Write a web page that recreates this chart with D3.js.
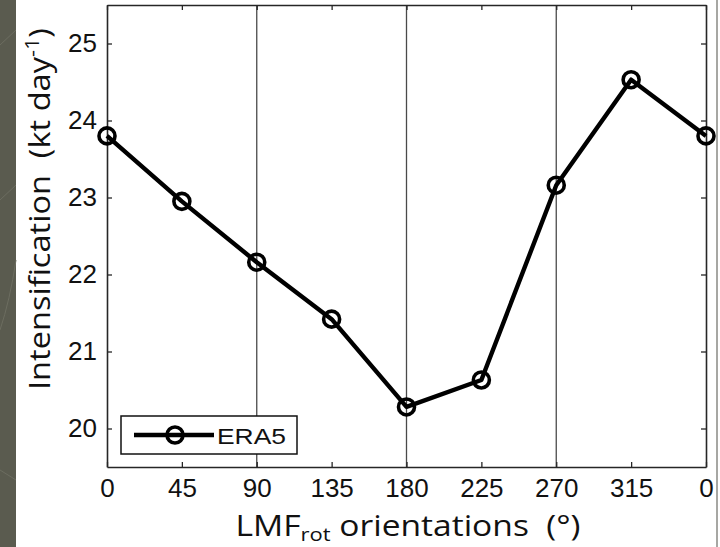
<!DOCTYPE html>
<html>
<head>
<meta charset="utf-8">
<script src="https://cdn.jsdelivr.net/npm/d3@7"></script>
<style>
  html, body { margin: 0; padding: 0; background: #fff; }
  svg { display: block; }
</style>
</head>
<body>
<svg id="chart" width="720" height="547"></svg>
<script>
// LMF_rot orientation (degrees) and mean intensification rate (kt/day)
const orientations = [0, 45, 90, 135, 180, 225, 270, 315, 360];
const era5 = [23.80, 22.95, 22.16, 21.42, 20.28, 20.63, 23.16, 24.53, 23.80];
const xTickValues = [0, 45, 90, 135, 180, 225, 270, 315, 360];
const xTickLabels = ["0", "45", "90", "135", "180", "225", "270", "315", "0"];
const yTickValues = [20, 21, 22, 23, 24, 25];
const gridValues = [90, 180, 270];
const seriesName = "ERA5";

const svg = d3.select("#chart");
const W = 720, H = 547;
const plot = { left: 107, right: 706, top: 5, bottom: 467 };

// dark side band on the left edge
svg.append("rect").attr("x", 0).attr("y", 0).attr("width", 16).attr("height", H)
  .attr("fill", "#5a5b4f");
const deco = svg.append("g").attr("stroke", "#6c6d60").attr("fill", "none").attr("stroke-width", 1);
deco.append("path").attr("d", "M0,45 L16,30");
deco.append("path").attr("d", "M0,200 L16,185");
deco.append("path").attr("d", "M0,330 Q10,300 16,260");
deco.append("path").attr("d", "M0,470 L16,480");
svg.append("line").attr("x1", 717).attr("x2", 717).attr("y1", 0).attr("y2", H)
  .attr("stroke", "#8a8a84").attr("stroke-width", 1.5);

const x = d3.scaleLinear().domain([0, 360]).range([plot.left, plot.right]);
const y = d3.scaleLinear().domain([19.5, 25.5]).range([plot.bottom, plot.top]);

const axisColor = "#262626";

// vertical reference lines
svg.append("g").selectAll("line").data(gridValues).join("line")
  .attr("x1", d => x(d)).attr("x2", d => x(d))
  .attr("y1", plot.top).attr("y2", plot.bottom)
  .attr("stroke", "#4a4a4a").attr("stroke-width", 1.3);

// axes with inward ticks
const tickLen = 5;
const bottomAxis = d3.axisBottom(x).tickValues(xTickValues)
  .tickFormat((d, i) => xTickLabels[i]).tickSizeInner(-tickLen).tickSizeOuter(0).tickPadding(12);
const topAxis = d3.axisTop(x).tickValues(xTickValues).tickFormat("").tickSizeInner(-tickLen).tickSizeOuter(0);
const leftAxis = d3.axisLeft(y).tickValues(yTickValues).tickFormat(d3.format("d"))
  .tickSizeInner(-tickLen).tickSizeOuter(0).tickPadding(10);
const rightAxis = d3.axisRight(y).tickValues(yTickValues).tickFormat("").tickSizeInner(-tickLen).tickSizeOuter(0);

function styleAxis(g) {
  g.select(".domain").attr("stroke", axisColor).attr("stroke-width", 1.6);
  g.selectAll(".tick line").attr("stroke", axisColor).attr("stroke-width", 1.3);
  g.selectAll(".tick text").attr("fill", "#111")
    .style("font-family", "'Liberation Sans', Arial, sans-serif").style("font-size", "26px");
}
svg.append("g").attr("transform", `translate(0,${plot.bottom})`).call(bottomAxis).call(styleAxis);
svg.append("g").attr("transform", `translate(0,${plot.top})`).call(topAxis).call(styleAxis);
svg.append("g").attr("transform", `translate(${plot.left},0)`).call(leftAxis).call(styleAxis);
svg.append("g").attr("transform", `translate(${plot.right},0)`).call(rightAxis).call(styleAxis);

// series line and circle markers
const pts = orientations.map((o, i) => ({ o, v: era5[i] }));
const line = d3.line().x(d => x(d.o)).y(d => y(d.v));
svg.append("path").datum(pts).attr("d", line)
  .attr("fill", "none").attr("stroke", "#000").attr("stroke-width", 4.4).attr("stroke-linejoin", "round");
svg.append("g").selectAll("circle").data(pts).join("circle")
  .attr("cx", d => x(d.o)).attr("cy", d => y(d.v)).attr("r", 8)
  .attr("fill", "none").attr("stroke", "#000").attr("stroke-width", 3.6);

// legend
const lg = svg.append("g");
lg.append("rect").attr("x", 121).attr("y", 416).attr("width", 176).attr("height", 38)
  .attr("fill", "#fff").attr("stroke", "#111").attr("stroke-width", 1.5);
lg.append("line").attr("x1", 134).attr("x2", 214).attr("y1", 435).attr("y2", 435)
  .attr("stroke", "#000").attr("stroke-width", 4.4);
lg.append("circle").attr("cx", 175).attr("cy", 435).attr("r", 8)
  .attr("fill", "none").attr("stroke", "#000").attr("stroke-width", 3.6);
lg.append("text").attr("x", 217).attr("y", 444).text(seriesName)
  .attr("fill", "#111").style("font-family", "'Liberation Sans', Arial, sans-serif").style("font-size", "22px")
  .attr("textLength", 69).attr("lengthAdjust", "spacingAndGlyphs");

// axis titles
const titleFont = "'Open Sans', Lato, sans-serif";
const xt = svg.append("text").attr("x", 408).attr("y", 536).attr("text-anchor", "middle")
  .attr("fill", "#111").style("font-family", titleFont).style("font-size", "29px")
  .attr("textLength", 345).attr("lengthAdjust", "spacingAndGlyphs");
xt.append("tspan").text("LMF");
xt.append("tspan").attr("dy", 5).style("font-size", "19px").text("rot");
xt.append("tspan").attr("dy", -5).text(" orientations\u00a0 (°)");

const yt = svg.append("text").attr("transform", "translate(50,209) rotate(-90)")
  .attr("text-anchor", "middle").attr("fill", "#111")
  .style("font-family", titleFont).style("font-size", "30px")
  .attr("textLength", 362).attr("lengthAdjust", "spacingAndGlyphs");
yt.append("tspan").text("Intensification\u00a0 (kt day");
yt.append("tspan").attr("dy", -11).style("font-size", "20px").text("-1");
yt.append("tspan").attr("dy", 11).text(")");
</script>
</body>
</html>
